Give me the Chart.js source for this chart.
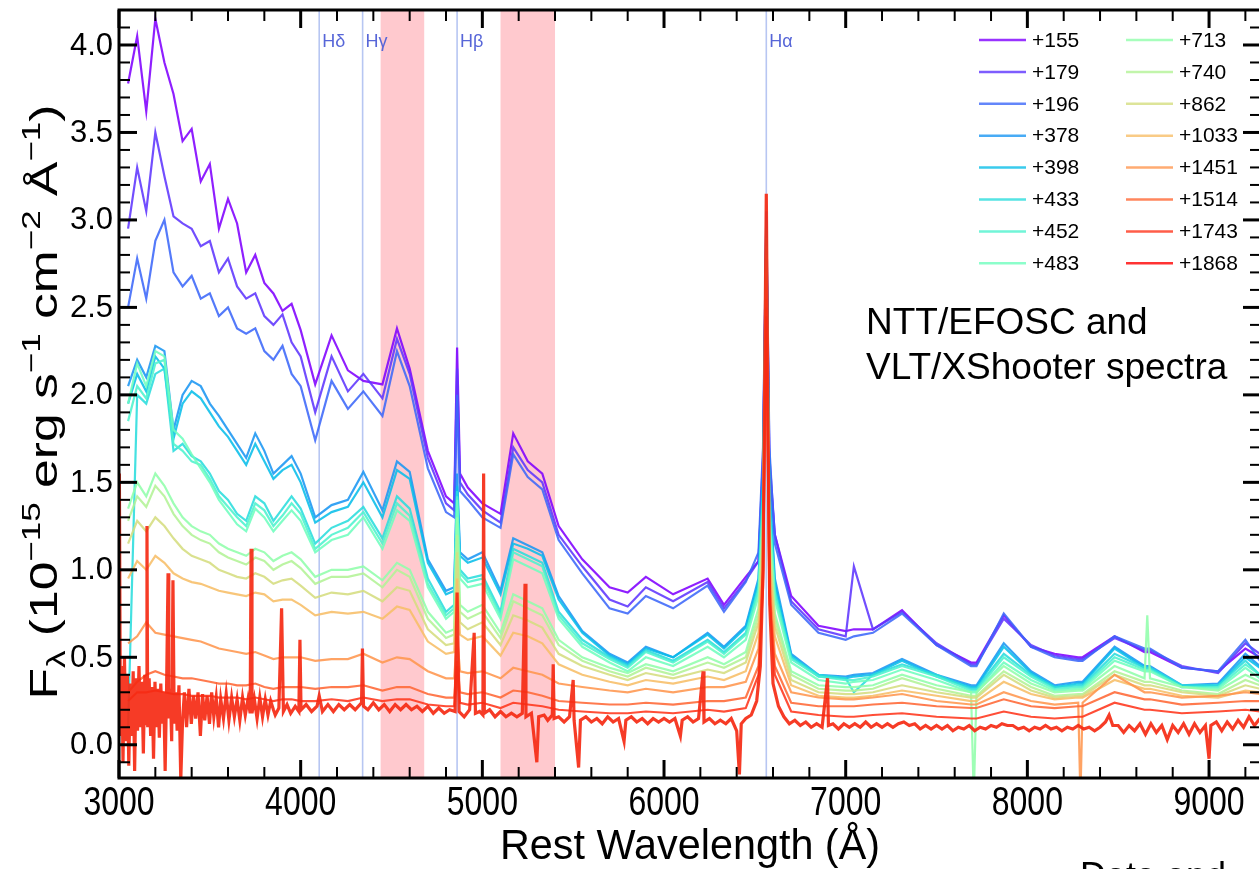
<!DOCTYPE html>
<html><head><meta charset="utf-8">
<script src="https://cdn.jsdelivr.net/npm/chart.js@4.4.0/dist/chart.umd.min.js"></script>
<style>html,body{margin:0;padding:0;overflow:hidden;background:#fff;width:1259px;height:869px}canvas{display:block}</style>
</head><body>
<canvas id="c" width="1262" height="869"></canvas>
<script>
// ---------------- DATA ----------------
const wave = [3050,3100,3150,3200,3250,3300,3350,3400,3450,3500,3550,3600,3650,3700,3750,3800,3850,3900,3950,4000,
 4080,4170,4260,4345,4450,4530,4600,4700,4800,4845,4861,4877,4920,5000,5100,5170,5250,5330,5420,5550,
 5700,5800,5900,6050,6240,6330,6450,6520,6545,6563,6580,6610,6700,6850,7000,7045,7150,7310,7500,
 7690,7705,7720,7870,8020,8150,8280,8292,8304,8480,8645,8660,8675,8850,9050,9200,9280];

const epochs = ['+155','+179','+196','+378','+398','+433','+452','+483','+713','+740','+862','+1033','+1451','+1514','+1743','+1868'];

const f155 = [3.78,4.05,3.62,4.15,3.90,3.72,3.45,3.52,3.22,3.32,2.95,3.12,2.98,2.70,2.80,2.64,2.58,2.48,2.52,2.37,
 2.06,2.34,2.14,2.08,2.06,2.38,2.15,1.68,1.42,1.38,2.27,1.55,1.47,1.38,1.32,1.78,1.62,1.55,1.25,1.06,
 0.90,0.87,0.96,0.86,0.95,0.80,0.96,1.05,1.60,2.90,1.60,1.20,0.85,0.68,0.65,0.66,0.66,0.77,0.57,
 0.47,null,0.47,0.74,0.56,0.52,0.50,null,0.50,0.62,0.53,null,0.53,0.44,0.42,0.55,0.50];
const f179 = [2.95,3.30,3.05,3.50,3.25,3.02,2.98,2.95,2.85,2.88,2.70,2.78,2.62,2.55,2.58,2.45,2.40,2.46,2.30,2.22,
 1.90,2.22,2.02,2.12,1.98,2.32,2.12,1.64,1.38,1.34,2.15,1.50,1.43,1.34,1.27,1.70,1.57,1.50,1.20,1.02,
 0.83,0.79,0.90,0.82,0.93,0.78,0.94,1.05,1.65,3.00,1.65,1.20,0.82,0.66,0.62,1.02,0.66,0.76,0.58,
 0.46,null,0.46,0.72,0.57,0.51,0.49,null,0.49,0.61,0.54,null,0.54,0.45,0.41,0.58,0.52];
const f196 = [2.50,2.78,2.55,2.88,3.00,2.70,2.62,2.68,2.55,2.58,2.45,2.50,2.38,2.35,2.38,2.25,2.20,2.28,2.12,2.05,
 1.74,2.08,1.92,2.02,1.88,2.25,2.05,1.58,1.33,1.30,2.00,1.45,1.40,1.30,1.24,1.66,1.53,1.46,1.17,0.98,
 0.78,0.75,0.85,0.78,0.91,0.76,0.93,1.10,1.70,3.05,1.70,1.15,0.80,0.64,0.60,0.62,0.64,0.75,0.57,
 0.45,null,0.45,0.75,0.56,0.50,0.48,null,0.48,0.62,0.55,null,0.55,0.44,0.42,0.60,0.48];
const f378 = [2.05,2.20,2.10,2.28,2.25,1.80,2.00,2.08,2.05,1.95,1.88,1.80,1.72,1.64,1.78,1.68,1.55,1.60,1.65,1.55,
 1.30,1.37,1.40,1.56,1.34,1.62,1.56,1.06,0.88,0.90,1.55,1.10,1.06,1.10,0.88,1.18,1.14,1.10,0.85,0.65,
 0.52,0.47,0.56,0.50,0.64,0.56,0.68,0.95,1.55,3.00,1.50,0.95,0.52,0.40,0.39,0.40,0.41,0.49,0.40,
 0.34,null,0.34,0.58,0.42,0.34,0.36,null,0.36,0.56,0.45,null,0.45,0.34,0.35,0.52,0.45];
const f398 = [1.95,2.12,2.02,2.22,2.15,1.75,1.95,2.02,1.98,1.90,1.82,1.76,1.68,1.60,1.72,1.62,1.52,1.57,1.60,1.50,
 1.27,1.33,1.36,1.50,1.30,1.57,1.52,1.04,0.86,0.88,1.48,1.08,1.04,1.07,0.86,1.15,1.12,1.08,0.83,0.64,
 0.51,0.46,0.55,0.50,0.63,0.55,0.67,0.93,1.50,2.95,1.45,0.92,0.51,0.39,0.38,0.39,0.40,0.48,0.39,
 0.33,null,0.33,0.56,0.41,0.33,0.35,null,0.35,0.55,0.44,null,0.44,0.33,0.34,0.50,0.44];
const f433 = [0.10,2.00,1.95,2.12,2.15,1.68,1.72,1.65,1.62,1.55,1.45,1.40,1.32,1.28,1.42,1.38,1.28,1.35,1.42,1.35,
 1.15,1.24,1.28,1.36,1.18,1.42,1.35,0.95,0.76,0.80,1.45,1.00,0.95,0.97,0.76,1.12,1.08,1.04,0.76,0.60,
 0.50,0.45,0.54,0.48,0.60,0.53,0.64,0.90,1.45,2.90,1.40,0.88,0.50,0.40,0.38,0.30,0.40,0.46,0.40,
 0.32,null,0.32,0.52,0.40,0.33,0.34,null,0.34,0.52,0.44,null,0.44,0.34,0.34,0.48,0.40];
const f452 = [1.85,2.05,1.98,2.18,2.20,1.72,1.68,1.62,1.60,1.52,1.42,1.36,1.30,1.25,1.38,1.34,1.25,1.31,1.38,1.32,
 1.12,1.20,1.24,1.33,1.15,1.38,1.31,0.92,0.74,0.78,1.42,0.98,0.93,0.95,0.74,1.10,1.06,1.02,0.74,0.58,
 0.49,0.44,0.53,0.47,0.59,0.52,0.63,0.88,1.40,2.85,1.35,0.86,0.49,0.39,0.37,0.37,0.39,0.45,0.39,
 0.31,null,0.31,0.50,0.39,0.32,0.33,null,0.33,0.50,0.43,null,0.43,0.33,0.33,0.46,0.40];
const f483 = [1.95,2.18,2.05,2.25,2.22,1.80,1.75,1.66,1.58,1.50,1.40,1.33,1.26,1.22,1.35,1.30,1.22,1.28,1.34,1.28,
 1.10,1.17,1.20,1.30,1.12,1.34,1.28,0.90,0.72,0.76,1.40,0.95,0.90,0.92,0.72,1.06,1.02,0.98,0.72,0.56,
 0.47,0.42,0.50,0.45,0.56,0.50,0.60,0.85,1.35,2.80,1.30,0.83,0.47,0.37,0.35,0.36,0.37,0.43,0.37,
 0.30,null,0.30,0.47,0.37,0.31,0.32,null,0.32,0.48,0.42,null,0.42,0.33,0.32,0.44,0.38];
const f713 = [1.35,1.50,1.42,1.55,1.48,1.38,1.30,1.25,1.22,1.20,1.15,1.12,1.10,1.08,1.12,1.10,1.05,1.08,1.10,1.06,
 0.96,1.00,1.00,1.02,0.94,1.04,1.00,0.76,0.64,0.66,1.30,0.80,0.76,0.80,0.64,0.86,0.82,0.78,0.60,0.50,
 0.44,0.41,0.46,0.42,0.50,0.46,0.53,0.78,1.30,2.75,1.25,0.75,0.42,0.34,0.33,0.33,0.34,0.40,0.34,
 0.30,-0.30,0.30,0.45,0.35,0.30,0.31,null,0.31,0.45,0.38,0.74,0.38,0.33,0.31,0.40,0.36];
const f740 = [1.28,1.42,1.36,1.48,1.42,1.32,1.25,1.20,1.17,1.15,1.10,1.07,1.05,1.03,1.07,1.05,1.00,1.03,1.05,1.01,
 0.92,0.96,0.96,0.98,0.90,1.00,0.96,0.72,0.61,0.63,1.20,0.76,0.72,0.76,0.61,0.82,0.78,0.74,0.57,0.48,
 0.42,0.39,0.44,0.40,0.47,0.44,0.50,0.74,1.25,2.70,1.20,0.72,0.40,0.32,0.31,0.31,0.32,0.38,0.32,
 0.28,null,0.28,0.42,0.33,0.28,0.29,null,0.29,0.42,0.36,null,0.36,0.31,0.29,0.37,0.34];
const f862 = [1.15,1.28,1.22,1.30,1.25,1.18,1.12,1.08,1.06,1.04,1.00,0.98,0.96,0.95,0.98,0.96,0.92,0.94,0.95,0.91,
 0.84,0.87,0.86,0.88,0.82,0.90,0.88,0.66,0.57,0.58,1.10,0.70,0.66,0.70,0.57,0.74,0.71,0.67,0.52,0.45,
 0.40,0.37,0.41,0.38,0.43,0.41,0.47,0.70,1.20,2.65,1.15,0.68,0.37,0.30,0.29,0.29,0.30,0.34,0.30,
 0.27,null,0.27,0.40,0.31,0.27,0.28,null,0.28,0.40,0.34,null,0.34,0.30,0.28,0.34,0.32];
const f1033 = [0.95,1.05,1.00,1.08,1.04,0.98,0.95,0.93,0.92,0.90,0.88,0.87,0.86,0.85,0.87,0.86,0.82,0.83,0.83,0.80,
 0.74,0.76,0.75,0.76,0.72,0.79,0.77,0.59,0.52,0.53,0.95,0.63,0.60,0.62,0.51,0.64,0.62,0.58,0.46,0.40,
 0.36,0.34,0.37,0.35,0.39,0.37,0.42,0.64,1.10,2.60,1.05,0.62,0.34,0.28,0.27,0.27,0.28,0.31,0.28,
 0.25,null,0.25,0.36,0.29,0.26,0.27,null,0.27,0.37,0.32,null,0.32,0.28,0.27,0.31,0.30];
const f1451 = [0.58,0.62,0.70,0.64,0.63,0.62,0.61,0.60,0.59,0.57,0.55,0.54,0.53,0.52,0.53,0.51,0.49,0.50,0.50,0.50,
 0.48,0.49,0.49,0.52,0.47,0.50,0.49,0.42,0.38,0.38,0.62,0.42,0.41,0.42,0.38,0.44,0.42,0.40,0.35,0.33,
 0.31,0.30,0.32,0.30,0.33,0.33,0.36,0.55,1.00,2.55,0.95,0.52,0.30,0.27,0.26,0.26,0.27,0.29,0.25,
 0.23,null,0.23,0.30,0.25,0.23,0.24,-0.30,0.24,0.40,0.30,null,0.30,0.27,0.28,0.30,0.29];
const f1514 = [0.30,0.36,0.40,0.42,0.40,0.39,0.38,0.38,0.37,0.36,0.35,0.35,0.34,0.34,0.35,0.33,0.32,0.33,0.33,0.33,
 0.32,0.33,0.33,0.34,0.31,0.33,0.33,0.29,0.27,0.27,0.48,0.30,0.29,0.30,0.27,0.31,0.30,0.28,0.25,0.24,
 0.23,0.23,0.24,0.23,0.25,0.25,0.27,0.45,0.95,2.50,0.90,0.45,0.24,0.22,0.22,0.22,0.23,0.24,0.22,
 0.21,null,0.21,0.26,0.22,0.21,0.22,null,0.22,0.30,0.26,null,0.26,0.23,0.24,0.25,0.25];
const f1743 = [0.25,0.30,0.30,0.31,0.30,0.29,0.29,0.28,0.28,0.28,0.27,0.27,0.27,0.26,0.27,0.26,0.25,0.26,0.26,0.25,
 0.25,0.26,0.25,0.27,0.25,0.26,0.26,0.23,0.22,0.22,0.45,0.24,0.23,0.24,0.21,0.24,0.23,0.22,0.20,0.19,
 0.18,0.18,0.19,0.18,0.20,0.19,0.21,0.40,0.90,2.45,0.85,0.40,0.19,0.17,0.16,0.16,0.17,0.18,0.16,
 0.15,null,0.15,0.19,0.16,0.15,0.16,null,0.16,0.24,0.20,null,0.20,0.18,0.19,0.20,0.19];

// XShooter +1868 spectrum (own, denser sampling)
const redWave = [
 3002,3008,3015,3022,3030,3038,3046,3054,3062,3070,
 3078,3086,3094,3102,3110,3118,3126,3134,3142,3150,
 3154,3158,3166,3174,3182,3190,3198,3206,3214,3222,
 3230,3238,3246,3254,3262,3270,3274,3282,3290,3297,
 3304,3312,3320,3330,3340,3350,3360,3372,3385,3398,
 3410,3422,3435,3448,3460,3472,3485,3498,3510,3522,
 3535,3548,3560,3575,3590,3605,3620,3635,3650,3665,
 3680,3695,3710,3722,3727,3732,3745,3760,3775,3790,
 3805,3820,3835,3850,3860,3880,3895,3905,3925,3945,
 3970,3990,3996,4002,4030,4060,4090,4102,4120,4150,
 4180,4210,4240,4270,4300,4335,4340,4346,4370,4400,
 4430,4460,4490,4520,4550,4580,4610,4640,4670,4700,
 4730,4760,4790,4820,4850,4861,4872,4900,4930,4955,
 4962,4985,5003,5007,5011,5040,5070,5100,5130,5160,
 5190,5220,5235,5240,5270,5300,5310,5340,5360,5385,
 5390,5395,5420,5450,5480,5500,5505,5530,5540,5570,
 5600,5630,5660,5690,5720,5750,5780,5790,5820,5850,
 5880,5910,5940,5970,6000,6030,6060,6090,6100,6130,
 6160,6190,6215,6220,6250,6280,6310,6340,6370,6400,
 6415,6425,6450,6480,6510,6530,6545,6555,6563,6571,
 6582,6600,6630,6660,6690,6720,6750,6780,6810,6840,
 6870,6900,6905,6930,6960,6990,7020,7050,7080,7110,
 7140,7170,7200,7230,7260,7290,7320,7350,7380,7410,
 7440,7470,7500,7530,7560,7590,7620,7650,7680,7710,
 7740,7770,7800,7830,7860,7890,7920,7950,7980,8010,
 8040,8070,8100,8130,8160,8190,8220,8250,8280,8310,
 8340,8370,8400,8430,8450,8470,8500,8530,8560,8590,
 8620,8650,8680,8710,8740,8770,8800,8830,8860,8890,
 8920,8950,8980,9000,9010,9040,9070,9100,9130,9160,
 9190,9220,9250,9280];
const f1868 = [
 1.55,0.05,0.45,-0.10,0.50,0.02,0.40,-0.12,0.35,0.05,
 0.42,-0.15,0.38,0.08,0.45,0.10,0.36,-0.05,0.40,0.12,
 1.25,0.10,0.38,0.05,0.33,-0.08,0.36,0.10,0.32,0.04,
 0.35,0.12,0.30,-0.15,0.33,0.98,0.15,0.32,0.02,0.94,
 0.12,0.30,0.08,0.34,-0.20,0.14,0.30,0.10,0.32,0.12,
 0.28,0.15,0.30,0.05,0.29,0.14,0.28,0.12,0.30,0.16,
 0.27,0.10,0.26,0.15,0.29,0.14,0.27,0.16,0.26,0.14,
 0.27,0.17,0.26,0.18,1.12,0.18,0.26,0.15,0.27,0.16,
 0.26,0.17,0.25,0.20,0.17,0.21,0.78,0.19,0.23,0.18,
 0.22,0.19,0.60,0.20,0.23,0.19,0.22,0.28,0.19,0.23,
 0.19,0.23,0.20,0.23,0.20,0.24,0.55,0.22,0.20,0.24,
 0.20,0.23,0.19,0.23,0.20,0.23,0.20,0.22,0.19,0.22,
 0.18,0.21,0.18,0.20,0.19,0.87,0.19,0.16,0.20,0.64,
 0.18,0.19,0.17,1.55,0.18,0.20,0.16,0.19,0.16,0.18,
 0.16,0.18,0.92,0.16,0.18,-0.10,0.16,0.17,0.14,0.17,
 0.46,0.15,0.16,0.13,0.16,0.37,0.14,-0.13,0.14,0.16,
 0.13,0.15,0.12,0.16,0.13,0.15,0.02,0.14,0.16,0.13,
 0.15,0.12,0.15,0.13,0.15,0.13,0.15,0.05,0.14,0.16,
 0.13,0.15,0.42,0.13,0.15,0.12,0.14,0.12,0.15,0.08,
 -0.17,0.12,0.15,0.17,0.25,0.45,1.00,2.20,3.15,2.00,
 0.80,0.35,0.22,0.16,0.12,0.14,0.11,0.13,0.10,0.12,
 0.10,0.38,0.11,0.12,0.09,0.12,0.10,0.12,0.10,0.13,
 0.10,0.12,0.10,0.12,0.10,0.12,0.13,0.11,0.12,0.09,
 0.11,0.09,0.11,0.09,0.11,0.08,0.10,0.09,0.11,0.08,
 0.10,0.09,0.11,0.10,0.12,0.11,0.11,0.09,0.10,0.08,
 0.10,0.09,0.11,0.09,0.10,0.08,0.10,0.09,0.11,0.09,
 0.10,0.08,0.10,0.13,0.17,0.11,0.11,0.07,0.11,0.08,
 0.12,0.06,0.12,0.07,0.11,0.03,0.11,0.07,0.12,0.06,
 0.12,0.07,0.11,-0.08,0.11,0.13,0.08,0.13,0.09,0.14,
 0.10,0.16,0.11,0.15];

const smoothSeries = [f155,f179,f196,f378,f398,f433,f452,f483,f713,f740,f862,f1033,f1451,f1514,f1743];
const colors = ['#8000ff','#5e35fe','#3c68f9','#1a96f3','#09bee9','#2adddd','#4df3ce','#6ffebe',
                '#91feab','#b3f396','#d5dd80','#f7be68','#ff964f','#ff6835','#ff351b','#ff0000'];

const hLineWaves = [4102, 4341, 4861, 6563];
const hLineLabels = ['Hδ', 'Hγ', 'Hβ', 'Hα'];
const bandStart = [4440, 5100];
const bandEnd = [4680, 5400];
const xTickValues = [3000,4000,5000,6000,7000,8000,9000];
const xTickLabels = ['3000','4000','5000','6000','7000','8000','9000'];
const yTickValues = [0,0.5,1.0,1.5,2.0,2.5,3.0,3.5,4.0];
const yTickLabels = ['0.0','0.5','1.0','1.5','2.0','2.5','3.0','3.5','4.0'];

// ---------------- CHART ----------------
const FONT = "'Liberation Sans', Arial, Helvetica, sans-serif";
function hexA(h, a){const n=parseInt(h.slice(1),16);return `rgba(${n>>16},${(n>>8)&255},${n&255},${a})`;}

const datasets = smoothSeries.map((vals,i)=>({
  label: epochs[i],
  data: wave.map((w,k)=>({x:w, y:vals[k]})),
  borderColor: hexA(colors[i],0.88), borderWidth: 2.2, pointRadius: 0, tension: 0,
  spanGaps: true, fill: false, order: 20 - i
}));
datasets.push({
  label: epochs[15],
  data: redWave.map((w,k)=>({x:w, y:f1868[k]})),
  borderColor: hexA('#f52a14',0.92), borderWidth: 3.2, pointRadius: 0, tension: 0,
  spanGaps: true, fill: false, order: 1
});

function seg(ctx,x1,y1,x2,y2,w){ctx.lineWidth=w;ctx.beginPath();ctx.moveTo(x1,y1);ctx.lineTo(x2,y2);ctx.stroke();}

function drawRich(ctx, parts, size, targetLen){
  let total = 0;
  parts.forEach(p=>{ctx.font = `${size*(p.s||1)}px ${FONT}`; p.w = ctx.measureText(p.t).width; total += p.w;});
  const k = targetLen/total;
  ctx.scale(k,1);
  let x = -total/2;
  parts.forEach(p=>{
    ctx.font = `${size*(p.s||1)}px ${FONT}`;
    ctx.fillText(p.t, x, (p.dy||0)*size);
    x += p.w;
  });
}

const decor = {
  id: 'decor',
  beforeDatasetsDraw(chart){
    const {ctx, chartArea:a, scales:{x}} = chart;
    ctx.save();
    ctx.beginPath(); ctx.rect(a.left,a.top,a.right-a.left,a.bottom-a.top); ctx.clip();
    ctx.fillStyle = '#ffc9ce';
    bandStart.forEach((s,i)=>{
      const x1 = x.getPixelForValue(s), x2 = x.getPixelForValue(bandEnd[i]);
      ctx.fillRect(x1, a.top, x2-x1, a.bottom-a.top);
    });
    ctx.strokeStyle = '#b7c6f2';
    hLineWaves.forEach(w=>{const px=x.getPixelForValue(w); seg(ctx,px,a.top,px,a.bottom,1.6);});
    ctx.restore();
  },
  afterDatasetsDraw(chart){
    const {ctx, chartArea:a, scales:{x,y}} = chart;
    ctx.save();
    ctx.fillStyle = '#5766d8'; ctx.font = `18px ${FONT}`; ctx.textBaseline='alphabetic'; ctx.textAlign='left';
    hLineWaves.forEach((w,i)=>{ctx.fillText(hLineLabels[i], x.getPixelForValue(w)+3, 47);});
    ctx.strokeStyle = '#000'; ctx.lineWidth = 3;
    ctx.strokeRect(a.left, a.top, a.right-a.left, a.bottom-a.top);
    for (let v=3000; v<=9200; v+=200){
      const px = x.getPixelForValue(v); const major = (v%1000===0);
      const L = major?18:11, W = major?3:2;
      seg(ctx,px,a.bottom,px,a.bottom-L,W);
      seg(ctx,px,a.top,px,a.top+L,W);
    }
    for (let k=-1; k<=42; k++){
      const v = k/10; const py = y.getPixelForValue(v); const major = (k%5===0);
      const L = major?18:11, W = major?3:2;
      seg(ctx,a.left,py,a.left+L,py,W);
      seg(ctx,a.right,py,a.right-L,py,W);
    }
    ctx.fillStyle = '#000';
    ctx.font = `31px ${FONT}`; ctx.textAlign='right'; ctx.textBaseline='middle';
    yTickValues.forEach((v,i)=>ctx.fillText(yTickLabels[i], 113, y.getPixelForValue(v)+1));
    ctx.textAlign='center'; ctx.textBaseline='alphabetic'; ctx.font = `40px ${FONT}`;
    xTickValues.forEach((v,i)=>{
      ctx.save(); ctx.translate(x.getPixelForValue(v), 815); ctx.scale(0.8,1);
      ctx.fillText(xTickLabels[i], 0, 0); ctx.restore();
    });
    ctx.save(); ctx.translate(690, 859); ctx.textAlign='left';
    drawRich(ctx, [{t:'Rest Wavelength (Å)'}], 42, 380); ctx.restore();
    ctx.save(); ctx.translate(57, 402); ctx.rotate(-Math.PI/2); ctx.textAlign='left';
    drawRich(ctx, [{t:'F'},{t:'λ',s:0.68,dy:0.2},{t:' (10'},{t:'−15',s:0.68,dy:-0.45},{t:' erg s'},{t:'−1',s:0.68,dy:-0.45},
                   {t:' cm'},{t:'−2',s:0.68,dy:-0.45},{t:' Å'},{t:'−1',s:0.68,dy:-0.45},{t:')'}], 38, 595);
    ctx.restore();
    ctx.textAlign='left'; ctx.font = `37px ${FONT}`;
    ctx.fillText('NTT/EFOSC and', 866, 334);
    ctx.fillText('VLT/XShooter spectra', 866, 379);
    ctx.font = `36px ${FONT}`;
    ctx.fillText('Data and', 1080, 888);
    ctx.font = `21px ${FONT}`; ctx.textBaseline='middle';
    chart.data.datasets.forEach((ds,i)=>{
      const col = i<8?0:1, row = i%8;
      const lx = col? 1126:979, ty = 40 + row*31.9;
      ctx.strokeStyle = hexA(colors[i],0.8); seg(ctx, lx, ty, lx+47, ty, 2.5);
      ctx.fillStyle = '#000'; ctx.fillText(epochs[i], lx+53, ty+1);
    });
    ctx.restore();
  }
};

new Chart(document.getElementById('c'), {
  type: 'line',
  data: { datasets },
  options: {
    responsive: false, animation: false, devicePixelRatio: 1,
    layout: { padding: { top: 10, right: 1, left: 0, bottom: 0 } },
    plugins: { legend: {display:false}, tooltip: {enabled:false} },
    scales: {
      x: { type:'linear', min:3000, max:9286, grid:{display:false}, border:{display:false},
           ticks:{display:false}, afterFit(s){ s.height = 91; } },
      y: { type:'linear', min:-0.19, max:4.2, grid:{display:false}, border:{display:false},
           ticks:{display:false}, afterFit(s){ s.width = 119; } }
    }
  },
  plugins: [decor]
});
</script>
</body></html>
